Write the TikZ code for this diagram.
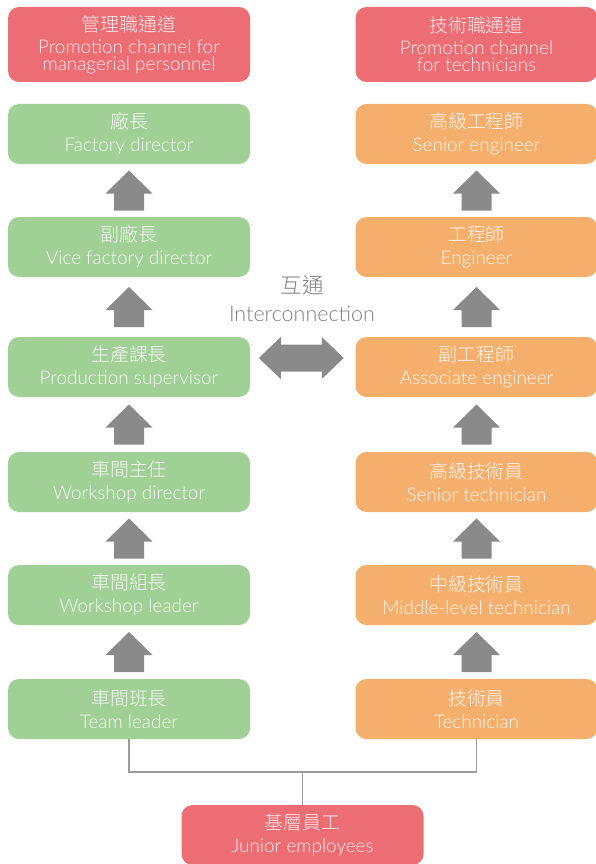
\documentclass[tikz,border=0pt]{standalone}
\usepackage{fontspec}
\setmainfont{Lato Light}
\newfontfamily\cjk{Noto Sans CJK TC Light}
\usepackage{tikz}
\usetikzlibrary{positioning}
\usetikzlibrary{calc}

\definecolor{chanred}{HTML}{EC6D74}
\definecolor{mgrgreen}{HTML}{A1D096}
\definecolor{techorange}{HTML}{F5AF6C}
\definecolor{arrowgray}{HTML}{8A8A8A}
\definecolor{linkgray}{HTML}{9B9B9B}
\definecolor{labelgray}{HTML}{7F7F7F}

% block arrow pointing up, between two nodes
\newcommand{\riseto}[2]{%
  \path (#1.north) -- coordinate[midway] (mid) (#2.south);
  \fill[arrowgray, shift={(mid)}] (-15,20) -- (-15,3) -- (-23.5,3) -- (0,-20) -- (23.5,3) -- (15,3) -- (15,20) -- cycle;
}
% block arrow pointing both ways
\newcommand{\swapwith}[2]{%
  \path (#1.east) -- coordinate[midway] (mid) (#2.west);
  \fill[arrowgray, shift={($(mid)+(-1.5,-9)$)}] (-42.5,0) -- (-20.5,-21) -- (-20.5,-13.5) -- (20.5,-13.5) -- (20.5,-21) -- (42.5,0) -- (20.5,21) -- (20.5,13.5) -- (-20.5,13.5) -- (-20.5,21) -- cycle;
}

\begin{document}
\begin{tikzpicture}[x=1pt, y=-1pt,
                    box/.style={align=center, rounded corners=11pt, minimum width=242pt, minimum height=60pt, inner sep=0pt, text=white, text opacity=0.88, font=\fontsize{18.9}{17}\selectfont, execute at begin node={\rule{0pt}{20.5pt}}},
                    head/.style={box, fill=chanred, minimum height=75pt},
                    mgr/.style={box, fill=mgrgreen},
                    tech/.style={box, fill=techorange},
                    link/.style={draw=linkgray, line width=1.8pt}
                ]
                \useasboundingbox (0,0) rectangle (595,864);

                % channel heads
                \node[head] (mgrhead) at (129,44.5) {{\cjk 管理職通道}\\[5pt] Promotion channel for\\ managerial personnel};
                \node[head] (techhead) at (476.5,44.5) {{\cjk 技術職通道}\\[5pt] Promotion channel\\ for technicians};

                % managerial ladder
                \node[mgr] (factory) at (129,134) {{\cjk 廠長}\\[6pt] Factory director};
                \node[mgr] (vicefactory) at (129,247) {{\cjk 副廠長}\\[6pt] Vice factory director};
                \node[mgr] (prodsup) at (129,367) {{\cjk 生產課長}\\[6pt] Production supervisor};
                \node[mgr] (wsdirector) at (129,482) {{\cjk 車間主任}\\[6pt] Workshop director};
                \node[mgr] (wsleader) at (129,595) {{\cjk 車間組長}\\[6pt] Workshop leader};
                \node[mgr] (teamleader) at (129,709) {{\cjk 車間班長}\\[6pt] Team leader};

                % technical ladder
                \node[tech] (senioreng) at (476.5,134) {{\cjk 高級工程師}\\[6pt] Senior engineer};
                \node[tech] (engineer) at (476.5,247) {{\cjk 工程師}\\[6pt] Engineer};
                \node[tech] (assoceng) at (476.5,367) {{\cjk 副工程師}\\[6pt] Associate engineer};
                \node[tech] (seniortech) at (476.5,482) {{\cjk 高級技術員}\\[6pt] Senior technician};
                \node[tech] (midtech) at (476.5,595) {{\cjk 中級技術員}\\[6pt] Middle-level technician};
                \node[tech] (technician) at (476.5,709) {{\cjk 技術員}\\[6pt] Technician};

                \node[head, minimum height=60pt] (junior) at (302.5,835) {{\cjk 基層員工}\\[6pt] Junior employees};

                \node[align=center, text=labelgray, font=\fontsize{21.5}{28}\selectfont] (inter) at (302,299) {{\cjk 互通}\\ Interconnection};

                \riseto{vicefactory}{factory}
                \riseto{prodsup}{vicefactory}
                \riseto{wsdirector}{prodsup}
                \riseto{wsleader}{wsdirector}
                \riseto{teamleader}{wsleader}
                \riseto{engineer}{senioreng}
                \riseto{assoceng}{engineer}
                \riseto{seniortech}{assoceng}
                \riseto{midtech}{seniortech}
                \riseto{technician}{midtech}
                \swapwith{prodsup}{assoceng}

                \coordinate (joint) at ($(teamleader.south)+(0,33)$);
                \draw[link] (teamleader.south) -- (teamleader.south |- joint) -- (technician.south |- joint) -- (technician.south);
                \draw[link] (junior.north) -- (junior.north |- joint);
            \end{tikzpicture}
\end{document}
